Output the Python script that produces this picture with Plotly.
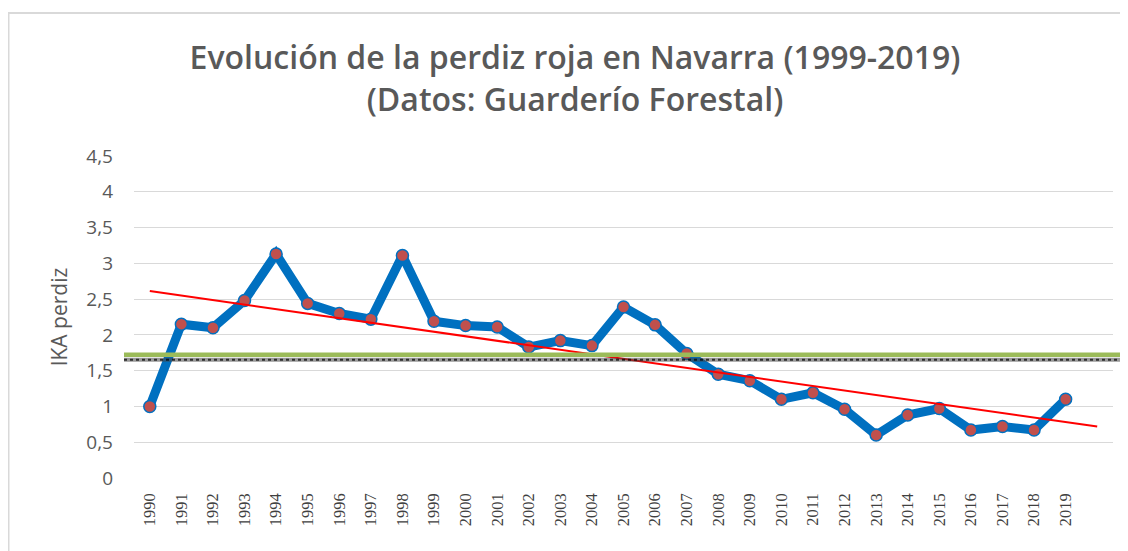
import numpy as np
import plotly.graph_objects as go

years = list(range(1990, 2020))
ika = [1.00, 2.15, 2.10, 2.48, 3.13, 2.44, 2.30, 2.22, 3.11, 2.19,
       2.13, 2.11, 1.83, 1.92, 1.85, 2.39, 2.14, 1.74, 1.45, 1.36,
       1.10, 1.19, 0.96, 0.60, 0.88, 0.97, 0.67, 0.72, 0.67, 1.10]
tick_labels = [str(y) for y in years]
y_ticks = [0, 0.5, 1, 1.5, 2, 2.5, 3, 3.5, 4, 4.5]
trend_years = [1990, 2020]
green_band = [1.69, 1.755]
gray_band = [1.625, 1.68]

title_text = "Evolución de la perdiz roja en Navarra (1999-2019)<br>(Datos: Guarderío Forestal)"

coef = np.polyfit(years, ika, 1)
trend_vals = [float(np.polyval(coef, x)) for x in trend_years]

fig = go.Figure()
fig.add_trace(go.Scatter(
    x=years, y=ika, mode="lines+markers",
    line=dict(color="#0070C0", width=9),
    marker=dict(color="#C0504D", size=12, line=dict(color="#0070C0", width=1.5)),
    showlegend=False, hoverinfo="x+y"))
fig.add_trace(go.Scatter(
    x=trend_years, y=trend_vals, mode="lines",
    line=dict(color="#FF0000", width=2), showlegend=False))

# figure is placed at (8, 8) in the page by the default body margin
W, H = 1120, 543
ml, mr, mt, mb = 126, 15, 148, 73
pw = W - ml - mr
ph = H - mt - mb

def px_x(p):
    return (p - ml) / pw

def px_y(p):
    return (H - mb - p) / ph

# bands (reference levels)
fig.add_shape(type="rect", xref="paper", yref="y", x0=px_x(116), x1=px_x(1114),
              y0=green_band[0], y1=green_band[1], fillcolor="#9BBB59",
              line=dict(width=0), layer="above")
fig.add_shape(type="rect", xref="paper", yref="y", x0=px_x(116), x1=px_x(1114),
              y0=gray_band[0], y1=gray_band[1], fillcolor="rgba(70,70,70,0.55)",
              line=dict(width=0), layer="above")
fig.add_shape(type="line", xref="paper", yref="y", x0=px_x(116), x1=px_x(1114),
              y0=sum(gray_band) / 2, y1=sum(gray_band) / 2,
              line=dict(color="rgba(0,0,0,0.7)", width=2, dash="dot"), layer="above")

# chart border
fig.add_shape(type="rect", xref="paper", yref="paper",
              x0=px_x(0.5), x1=px_x(1140),
              y0=px_y(600), y1=px_y(5),
              line=dict(color="#D9D9D9", width=2), fillcolor="rgba(0,0,0,0)", layer="below")

fig.update_layout(
    width=W, height=H,
    margin=dict(l=ml, r=mr, t=mt, b=mb, autoexpand=False),
    paper_bgcolor="white", plot_bgcolor="white",
    separators=", ",
    title=dict(text=title_text, x=567 / W, xanchor="center", y=1 - 61 / H, yanchor="top",
               font=dict(family="Open Sans", size=32, color="#595959", weight=600)),
    xaxis=dict(range=[1989.5, 2020.5], tickmode="array", tickvals=years, ticktext=tick_labels,
               tickangle=-90, showgrid=False, zeroline=False, showline=False,
               ticklabelstandoff=11,
               tickfont=dict(family="Liberation Serif", size=16.5, color="#404040")),
    yaxis=dict(range=[0, 4.5], tickmode="array", tickvals=y_ticks,
               showgrid=True, gridcolor="#D9D9D9", gridwidth=1, zeroline=False,
               showline=False, ticklabelstandoff=20,
               tickfont=dict(family="Open Sans", size=19, color="#595959"),
               title=dict(text="IKA perdiz", standoff=12,
                          font=dict(family="Open Sans", size=21, color="#595959"))),
)

fig.write_html("out.html")
